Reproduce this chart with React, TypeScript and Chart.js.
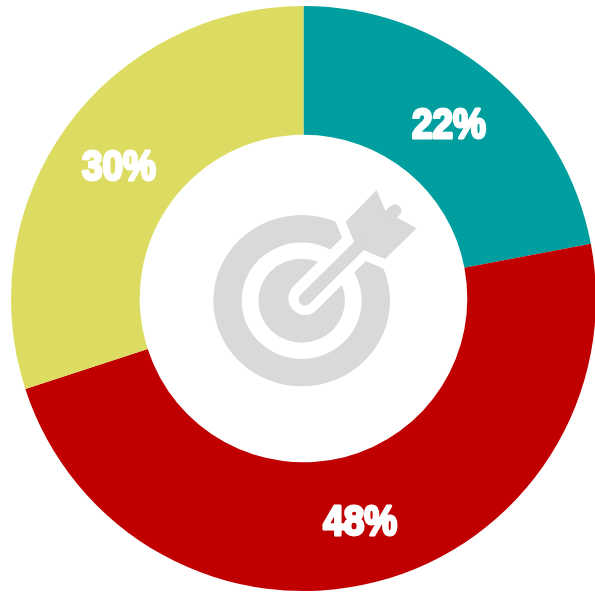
import React, { useEffect, useRef } from "react";
import { Chart, registerables } from "chart.js";

Chart.register(...registerables);

const categories = ["A", "B", "C"];
const values = [22, 48, 30];
const colors = ["#009E9E", "#C00000", "#DDDC62"];
const GREY = "#D9D9D9";

const iconPlugin = {
  id: "icon",
  afterDatasetsDraw(chart: any) {
    const { ctx } = chart;
    const meta = chart.getDatasetMeta(0);
    const { x: cx, y: cy } = meta.data[0];
    ctx.save();
    ctx.translate(cx - 103.5, cy - 118.5);
    ctx.scale(1 / 3, 1 / 3);
    const disc = (r: number, c: string) => {
      ctx.fillStyle = c;
      ctx.beginPath();
      ctx.ellipse(305, 362, r, r * 0.97, 0, 0, Math.PI * 2);
      ctx.fill();
    };
    disc(265, GREY);
    disc(180, "#fff");
    disc(130, GREY);
    const line = (x1: number, y1: number, x2: number, y2: number, w: number, c: string) => {
      ctx.strokeStyle = c;
      ctx.lineWidth = w;
      ctx.lineCap = "round";
      ctx.beginPath();
      ctx.moveTo(x1, y1);
      ctx.lineTo(x2, y2);
      ctx.stroke();
    };
    line(315, 355, 490, 180, 100, "#fff");
    const feather = () => {
      ctx.beginPath();
      ctx.moveTo(437, 125);
      ctx.lineTo(530, 30);
      ctx.lineTo(556, 92);
      ctx.lineTo(600, 118);
      ctx.lineTo(650, 145);
      ctx.lineTo(555, 237);
      ctx.lineTo(495, 212);
      ctx.lineTo(462, 185);
      ctx.closePath();
    };
    feather();
    ctx.strokeStyle = "#fff";
    ctx.lineWidth = 56;
    ctx.lineJoin = "miter";
    ctx.stroke();
    feather();
    ctx.fillStyle = GREY;
    ctx.fill();
    line(315, 358, 480, 195, 38, GREY);
    line(560, 115, 585, 92, 38, GREY);
    ctx.restore();
  },
};

const labelPlugin = {
  id: "pctLabels",
  afterDatasetsDraw(chart: any) {
    const { ctx } = chart;
    const meta = chart.getDatasetMeta(0);
    meta.data.forEach((arc: any, i: number) => {
      const p = arc.tooltipPosition();
      const t = `${values[i]}%`;
      ctx.save();
      ctx.translate(p.x, p.y + 4);
      ctx.scale(0.88, 1.0);
      ctx.font = 'bold 42px "Liberation Sans", sans-serif';
      ctx.textAlign = "center";
      ctx.textBaseline = "middle";
      ctx.fillStyle = "#fff";
      ctx.strokeStyle = "#fff";
      ctx.lineWidth = 3;
      ctx.lineJoin = "round";
      ctx.strokeText(t, 0, 0);
      ctx.fillText(t, 0, 0);
      ctx.restore();
    });
  },
};

export default function App() {
  const ref = useRef<HTMLCanvasElement>(null);
  useEffect(() => {
    const chart = new Chart(ref.current!, {
      type: "doughnut",
      data: {
        labels: categories,
        datasets: [{ data: values, backgroundColor: colors, borderWidth: 0 }],
      },
      options: {
        responsive: false,
        animation: false,
        cutout: "56%",
        layout: { padding: { left: 11, top: 6, right: 4, bottom: 9 } },
        plugins: { legend: { display: false }, tooltip: { enabled: false } },
      },
      plugins: [iconPlugin, labelPlugin],
    } as any);
    return () => chart.destroy();
  }, []);
  return (
    <div style={{ position: "absolute", left: 0, top: 0, width: 595, height: 592, overflow: "hidden", background: "#fff" }}>
      <canvas ref={ref} width={600} height={600} style={{ display: "block" }} />
    </div>
  );
}
